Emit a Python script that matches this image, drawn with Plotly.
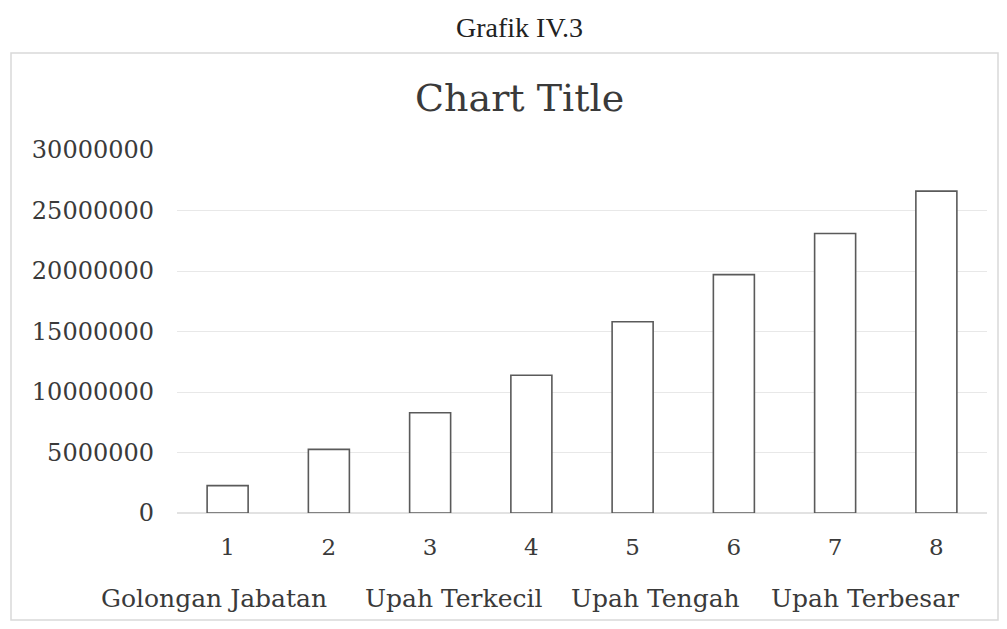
import plotly.graph_objects as go

categories = ["1", "2", "3", "4", "5", "6", "7", "8"]
values = [2260000, 5260000, 8290000, 11380000, 15800000, 19700000, 23100000, 26600000]
y_ticks = [0, 5000000, 10000000, 15000000, 20000000, 25000000, 30000000]
y_tick_labels = ["0", "5000000", "10000000", "15000000", "20000000", "25000000", "30000000"]
legend_labels = ["Golongan Jabatan", "Upah Terkecil", "Upah Tengah", "Upah Terbesar"]
legend_px = [214, 453, 655, 865]

# page body has an 8px margin; work in reference pixel coordinates and shift
OFF = 8
W, H = 1007 - 2 * OFF, 629 - 2 * OFF
L, R, T, B = 177 - OFF, 20 - OFF, 150 - OFF, 116 - OFF
pw = W - L - R
ph = H - T - B

def px2x(px):
    return (px - OFF - L) / pw

def py2y(py):
    return (H - B - (py - OFF)) / ph

serif = "DejaVu Serif"
txt = "#3a3a3a"

fig = go.Figure()
fig.add_trace(go.Bar(
    x=categories, y=values,
    marker=dict(color="white", line=dict(color="#5a5a5a", width=1.6)),
    showlegend=False,
))

annotations = [
    dict(text="Grafik IV.3", x=px2x(519), y=py2y(27), xref="paper", yref="paper",
         xanchor="center", yanchor="middle",
         showarrow=False, font=dict(family="Liberation Serif", size=28, color="#222")),
    dict(text="Chart Title", x=px2x(519), y=py2y(98), xref="paper", yref="paper",
         xanchor="center", yanchor="middle",
         showarrow=False, font=dict(family=serif, size=38, color=txt)),
]
for lab, p in zip(legend_labels, legend_px):
    annotations.append(dict(text=lab, x=px2x(p), y=py2y(598), xref="paper", yref="paper",
                            xanchor="center", yanchor="middle",
                            showarrow=False, font=dict(family=serif, size=25, color=txt)))

fig.update_layout(
    width=W, height=H,
    margin=dict(l=L, r=R, t=T, b=B, pad=0),
    paper_bgcolor="white", plot_bgcolor="white",
    bargap=0.595,
    annotations=annotations,
    shapes=[dict(type="rect", xref="paper", yref="paper",
                 x0=px2x(11), x1=px2x(998), y0=py2y(620), y1=py2y(53),
                 line=dict(color="#d9d9d9", width=1.5))],
    xaxis=dict(showgrid=False, showline=False, zeroline=False,
               ticks="", ticklabelstandoff=18,
               tickfont=dict(family=serif, size=23, color=txt)),
    yaxis=dict(range=[0, 30000000], tickvals=y_ticks, ticktext=y_tick_labels,
               showgrid=True, gridcolor="#e8e8e8", gridwidth=1,
               zeroline=True, zerolinecolor="#e2e2e2", showline=False,
               ticks="", ticklabelstandoff=22,
               tickfont=dict(family=serif, size=24, color=txt)),
)

fig.write_html("out.html")
